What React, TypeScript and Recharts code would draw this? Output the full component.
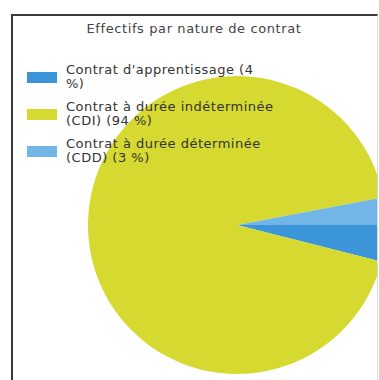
import React from 'react';
import { PieChart, Pie, Cell, Legend } from 'recharts';

const title = 'Effectifs par nature de contrat';
const categories = [
  "Contrat d'apprentissage",
  'Contrat à durée indéterminée (CDI)',
  'Contrat à durée déterminée (CDD)',
];
const shares = [4, 94, 3];
const colors = ['#3b95d8', '#d5d930', '#72b6e8'];

const data = categories.map((name, i) => ({ name, value: shares[i] }));

const font = '"DejaVu Sans", "Liberation Sans", Arial, sans-serif';

// legend keeps the data order (recharts would sort it by name)
const LegendBox = () => (
  <div style={{ width: 270 }}>
    {data.map((d, i) => (
      <div key={d.name} style={{ display: 'flex', alignItems: 'center', marginBottom: 9 }}>
        <div style={{ width: 30, height: 11, background: colors[i], flexShrink: 0, marginRight: 9 }} />
        <div
          style={{
            fontFamily: font,
            fontSize: 13,
            letterSpacing: 0.5,
            lineHeight: '14px',
            color: '#333',
            width: 209,
            flexShrink: 0,
          }}
        >
          {`${d.name} (${d.value} %)`}
        </div>
      </div>
    ))}
  </div>
);

export default function App() {
  return (
    <div
      style={{
        position: 'absolute',
        left: 0,
        top: 0,
        width: 379,
        height: 380,
        overflow: 'hidden',
        background: '#fff',
      }}
    >
      <div
        style={{
          position: 'absolute',
          left: 11,
          top: 14,
          width: 364,
          height: 380,
          borderLeft: '2px solid #3a3a3a',
          borderTop: '2px solid #3a3a3a',
          borderRight: '1px solid #d8d8d8',
        }}
      />
      <div
        style={{
          position: 'absolute',
          left: 0,
          top: 21,
          width: 388,
          textAlign: 'center',
          fontFamily: font,
          fontSize: 13,
          letterSpacing: 0.6,
          color: '#444',
          zIndex: 2,
        }}
      >
        {title}
      </div>
      <div style={{ position: 'absolute', left: 0, top: 0 }}>
        <PieChart width={377} height={380} margin={{ top: 0, right: 0, bottom: 0, left: 0 }}>
          <Pie
            data={data}
            dataKey="value"
            nameKey="name"
            cx={237}
            cy={225}
            outerRadius={149}
            startAngle={0}
            endAngle={-360}
            stroke="none"
            isAnimationActive={false}
          >
            {data.map((_, i) => (
              <Cell key={i} fill={colors[i]} />
            ))}
          </Pie>
          <Legend
            layout="vertical"
            align="center"
            verticalAlign="middle"
            content={LegendBox}
            wrapperStyle={{ left: 27, top: 63, width: 280, height: 'auto' }}
          />
        </PieChart>
      </div>
    </div>
  );
}
